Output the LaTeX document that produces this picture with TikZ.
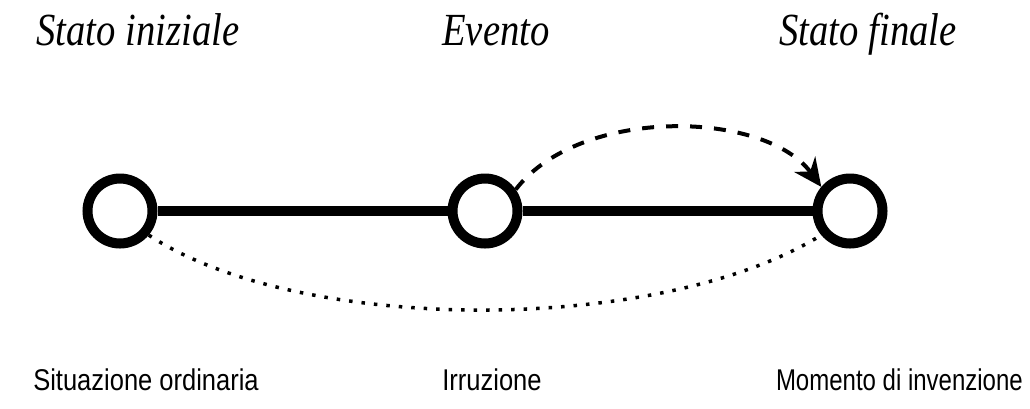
\documentclass[tikz,border=0pt]{standalone}
\usepackage{fontspec}
\setmainfont{Liberation Serif}
\newfontfamily\topfont[FakeStretch=0.84]{Liberation Serif}
\newfontfamily\botfont[FakeStretch=0.85]{Liberation Sans}
\newfontfamily\botfontnarrow[FakeStretch=0.8]{Liberation Sans}
\usetikzlibrary{arrows.meta}
\begin{document}
\begin{tikzpicture}[x=1pt,y=-1pt,
  ring/.style={draw,circle,line width=10pt,minimum size=65pt,inner sep=0pt},
  toplabel/.style={font=\topfont\itshape\fontsize{46}{50}\selectfont,inner sep=0pt,anchor=base},
  botlabel/.style={font=\botfont\fontsize{30}{34}\selectfont,inner sep=0pt,anchor=base},
  bar/.style={line width=10pt},
  dasharc/.style={line width=4pt,dash pattern=on 12pt off 12pt,-{Stealth[length=28pt,width=26pt,inset=9pt]}},
  dotarc/.style={line width=3.5pt,dash pattern=on 3.5pt off 9pt}]
\useasboundingbox (0,0) rectangle (1030,408);
\node[ring] (a) at (120,211) {};
\node[ring] (b) at (485,211) {};
\node[ring] (c) at (850,211) {};
\node[toplabel] (ta) at (138,45) {Stato iniziale};
\node[toplabel] (tb) at (496,45) {Evento};
\node[toplabel] (tc) at (868,45) {Stato finale};
\node[botlabel] (la) at (146,390) {Situazione ordinaria};
\node[botlabel] (lb) at (492,390) {Irruzione};
\node[botlabel,font=\botfontnarrow\fontsize{30}{34}\selectfont,anchor=base east] (lc) at (1023,390) {Momento di invenzione};
\draw[bar] (a) -- (b);
\draw[bar] (b) -- (c);
\draw[dasharc] (b.35) .. controls (580,106) and (765,110) .. (c.140);
\draw[dotarc] (a.-40) .. controls (300,335) and (660,335) .. (c.-140);
\end{tikzpicture}
\end{document}
